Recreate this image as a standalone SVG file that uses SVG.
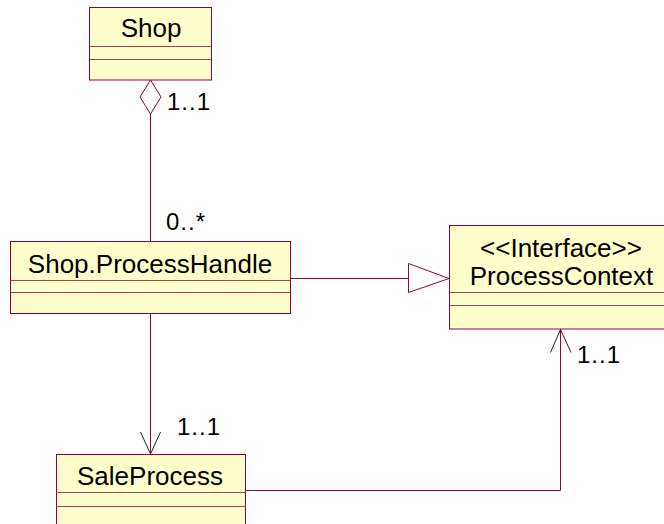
<svg xmlns="http://www.w3.org/2000/svg" width="664" height="524" viewBox="0 0 664 524">
<style>
.box{fill:#FFFFCC;stroke:#99003A;stroke-width:1}
.div{stroke:#B0405A;stroke-width:1}
.name{font-family:"Liberation Sans",Arial,sans-serif;font-size:26px;fill:#000;text-anchor:middle}
.mult{font-family:"Liberation Sans",Arial,sans-serif;font-size:24px;fill:#000;letter-spacing:1px}
.conn{fill:none;stroke:#99003A;stroke-width:1}
.head{fill:none;stroke:#222;stroke-width:1}
</style>
<rect width="664" height="524" fill="#fff"/>
<g id="Shop">
<rect class="box" x="89.5" y="7.5" width="122" height="72.5"/>
<line class="div" x1="89.5" y1="46.5" x2="211.5" y2="46.5"/>
<line class="div" x1="89.5" y1="59.5" x2="211.5" y2="59.5"/>
<text class="name" x="151" y="37">Shop</text>
</g>
<g id="ProcessHandle">
<rect class="box" x="10.5" y="241.5" width="280" height="72"/>
<line class="div" x1="10.5" y1="280.5" x2="290.5" y2="280.5"/>
<line class="div" x1="10.5" y1="292.5" x2="290.5" y2="292.5"/>
<text class="name" x="150" y="272.5">Shop.ProcessHandle</text>
</g>
<g id="ProcessContext">
<rect class="box" x="449.5" y="225.5" width="230" height="103.5"/>
<line class="div" x1="449.5" y1="292.5" x2="679.5" y2="292.5"/>
<line class="div" x1="449.5" y1="305.5" x2="679.5" y2="305.5"/>
<text class="name" x="561" y="256.5">&lt;&lt;Interface&gt;&gt;</text>
<text class="name" x="561.5" y="285">ProcessContext</text>
</g>
<g id="SaleProcess">
<rect class="box" x="56.5" y="454.5" width="189" height="80"/>
<line class="div" x1="56.5" y1="492.5" x2="245.5" y2="492.5"/>
<line class="div" x1="56.5" y1="506.5" x2="245.5" y2="506.5"/>
<text class="name" x="150" y="485">SaleProcess</text>
</g>
<g id="connectors">
<line class="conn" x1="150.5" y1="114" x2="150.5" y2="241.5"/>
<polygon class="conn" points="150.5,80 161,97 150.5,114 140,97" fill="#fff"/>
<line class="conn" x1="150.5" y1="313.5" x2="150.5" y2="454"/>
<polyline class="head" points="140.5,432 150.5,454 160.5,432"/>
<line class="conn" x1="290.5" y1="278.5" x2="408.5" y2="278.5"/>
<polygon class="conn" points="408.5,263.5 449,278.5 408.5,292.5" style="fill:#fff"/>
<polyline class="conn" points="245.5,490.5 560.5,490.5 560.5,329.5"/>
<polyline class="head" points="550.5,352.5 560.5,329.5 571,352.5"/>
<text class="mult" x="167" y="109.5">1..1</text>
<text class="mult" x="166" y="230">0..*</text>
<text class="mult" x="177" y="435">1..1</text>
<text class="mult" x="577" y="362.5">1..1</text>
</g>
</svg>
